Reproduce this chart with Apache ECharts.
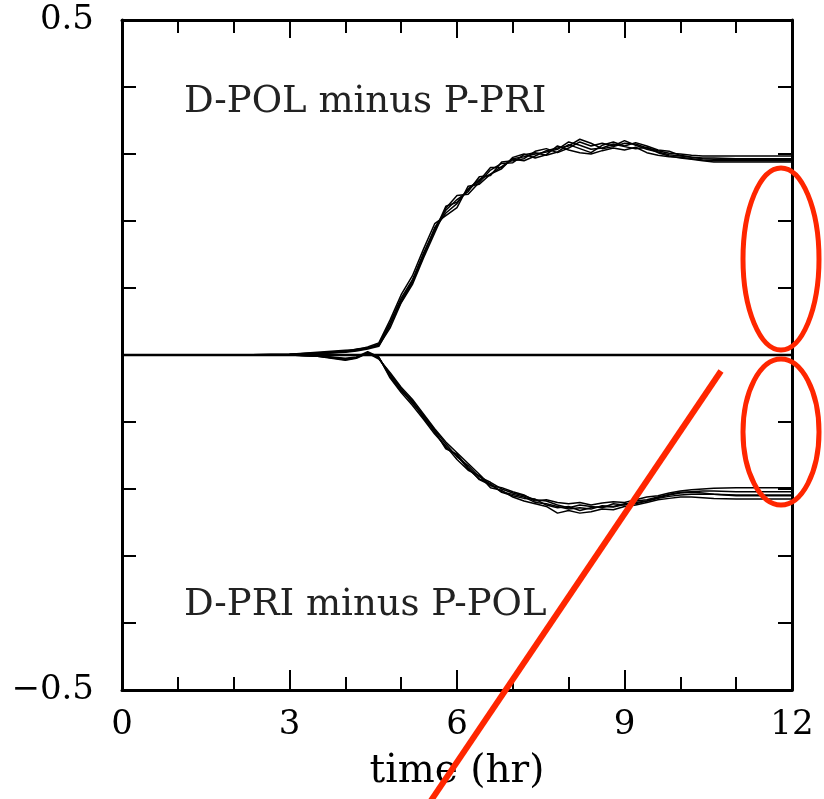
<!DOCTYPE html>
<html>
<head>
<meta charset="utf-8">
<script src="https://cdn.jsdelivr.net/npm/echarts@6/dist/echarts.min.js"></script>
<style>
html,body{margin:0;padding:0;background:#fff;}
#chart{width:824px;height:799px;}
</style>
</head>
<body>
<div id="chart"></div>
<script>
// time (hr)
var times = [0,1,2,3,3.5,4,4.2,4.4,4.6,4.8,5,5.2,5.4,5.6,5.8,6,6.2,6.4,6.6,6.8,7,7.2,7.4,7.6,7.8,8,8.2,8.4,8.6,8.8,9,9.2,9.4,9.6,9.8,10,10.2,10.4,10.6,11,12];

// D-POL minus P-PRI members
var up1 = [0,0,0,0.001,0.003,0.006,0.008,0.010,0.016,0.048,0.085,0.112,0.152,0.188,0.212,0.226,0.248,0.262,0.270,0.281,0.292,0.290,0.297,0.305,0.309,0.312,0.322,0.316,0.308,0.311,0.316,0.315,0.309,0.305,0.301,0.300,0.298,0.297,0.297,0.297,0.297];
var up2 = [0,0,0,0.000,0.002,0.005,0.009,0.011,0.014,0.040,0.078,0.105,0.145,0.182,0.219,0.238,0.240,0.258,0.276,0.286,0.287,0.299,0.302,0.298,0.303,0.314,0.308,0.302,0.313,0.318,0.312,0.317,0.312,0.306,0.304,0.298,0.295,0.294,0.294,0.293,0.293];
var up3 = [0,0,0,0.001,0.004,0.007,0.008,0.012,0.018,0.052,0.090,0.118,0.158,0.196,0.208,0.220,0.252,0.255,0.270,0.278,0.295,0.300,0.294,0.299,0.312,0.306,0.302,0.300,0.305,0.309,0.306,0.310,0.302,0.298,0.296,0.295,0.293,0.291,0.290,0.290,0.290];
var up4 = [0,0,0,0.000,0.002,0.004,0.006,0.009,0.013,0.044,0.082,0.110,0.148,0.190,0.216,0.232,0.244,0.266,0.268,0.288,0.290,0.293,0.304,0.308,0.302,0.309,0.318,0.312,0.316,0.312,0.320,0.313,0.307,0.303,0.299,0.297,0.295,0.293,0.292,0.292,0.292];
var up5 = [0,0,0,0.001,0.003,0.005,0.007,0.010,0.015,0.046,0.079,0.108,0.150,0.185,0.222,0.228,0.247,0.260,0.280,0.280,0.293,0.296,0.300,0.303,0.307,0.318,0.313,0.307,0.309,0.315,0.311,0.308,0.310,0.302,0.297,0.294,0.292,0.290,0.288,0.288,0.288];

// D-PRI minus P-POL members
var lo1 = [0,0,0,0,-0.001,-0.006,-0.004,0.004,-0.004,-0.030,-0.052,-0.072,-0.092,-0.115,-0.138,-0.150,-0.170,-0.185,-0.192,-0.205,-0.210,-0.214,-0.215,-0.224,-0.228,-0.226,-0.232,-0.228,-0.226,-0.227,-0.223,-0.220,-0.218,-0.214,-0.211,-0.209,-0.208,-0.208,-0.208,-0.209,-0.209];
var lo2 = [0,0,0,0,-0.002,-0.008,-0.005,0.003,-0.006,-0.026,-0.048,-0.066,-0.088,-0.110,-0.130,-0.146,-0.162,-0.178,-0.195,-0.198,-0.204,-0.209,-0.218,-0.216,-0.220,-0.222,-0.220,-0.224,-0.221,-0.219,-0.220,-0.216,-0.212,-0.210,-0.206,-0.203,-0.201,-0.200,-0.199,-0.198,-0.198];
var lo3 = [0,0,0,0,-0.001,-0.005,-0.003,0.005,-0.003,-0.034,-0.056,-0.075,-0.096,-0.118,-0.136,-0.156,-0.172,-0.180,-0.198,-0.202,-0.212,-0.218,-0.222,-0.226,-0.236,-0.232,-0.236,-0.234,-0.230,-0.231,-0.226,-0.224,-0.220,-0.216,-0.214,-0.212,-0.212,-0.213,-0.214,-0.215,-0.215];
var lo4 = [0,0,0,0,-0.001,-0.007,-0.004,0.004,-0.005,-0.028,-0.050,-0.070,-0.090,-0.112,-0.133,-0.152,-0.165,-0.182,-0.190,-0.200,-0.206,-0.210,-0.216,-0.218,-0.224,-0.228,-0.224,-0.226,-0.228,-0.222,-0.224,-0.218,-0.216,-0.212,-0.208,-0.205,-0.204,-0.203,-0.203,-0.204,-0.204];
var lo5 = [0,0,0,0,-0.002,-0.006,-0.004,0.003,-0.004,-0.032,-0.054,-0.068,-0.094,-0.114,-0.140,-0.148,-0.168,-0.186,-0.194,-0.204,-0.208,-0.212,-0.220,-0.222,-0.226,-0.230,-0.228,-0.230,-0.225,-0.226,-0.222,-0.222,-0.218,-0.213,-0.209,-0.206,-0.205,-0.206,-0.208,-0.210,-0.210];

var zeroTimes = [0, 12];
var zeroVals = [0, 0];

var labelUpper = 'D-POL minus P-PRI';
var labelLower = 'D-PRI minus P-POL';
var xTitle = 'time (hr)';
var yTitle = 'total rain difference (mm)';

var FONT = 'DejaVu Serif';

function pairs(xs, ys){ return xs.map(function(x,i){ return [x, ys[i]]; }); }

function lineSeries(name, vals){
  return {
    name: name, type: 'line', xAxisIndex: 0, yAxisIndex: 0,
    data: pairs(times, vals), showSymbol: false, symbol: 'none',
    lineStyle: { color: '#000', width: 1.5 }, silent: true, animation: false, z: 3
  };
}

var series = [
  lineSeries('u1', up1), lineSeries('u2', up2), lineSeries('u3', up3), lineSeries('u4', up4), lineSeries('u5', up5),
  lineSeries('l1', lo1), lineSeries('l2', lo2), lineSeries('l3', lo3), lineSeries('l4', lo4), lineSeries('l5', lo5),
  { name: 'zero', type: 'line', xAxisIndex: 0, yAxisIndex: 0, data: pairs(zeroTimes, zeroVals),
    showSymbol: false, symbol: 'none', lineStyle: { color: '#000', width: 2.6 }, animation: false, z: 4 }
];

var axisLine = { show: true, onZero: false, lineStyle: { color: '#000', width: 3 } };

var chart = echarts.init(document.getElementById('chart'), null, { renderer: 'canvas' });
chart.setOption({
  backgroundColor: '#fff',
  animation: false,
  grid: { left: 122, right: 32, top: 20, bottom: 109, containLabel: false, outerBoundsMode: 'none' },
  xAxis: [
    { type: 'value', min: 0, max: 12, interval: 3, position: 'bottom',
      axisLine: axisLine,
      axisTick: { show: true, inside: true, length: 20, lineStyle: { color: '#000', width: 2 } },
      minorTick: { show: true, splitNumber: 3, length: 13, lineStyle: { color: '#000', width: 2 } },
      splitLine: { show: false }, minorSplitLine: { show: false },
      axisLabel: { show: true, margin: 18, color: '#000', fontFamily: FONT, fontSize: 34,
        formatter: function(v){ return String(Math.round(v)); } },
      name: xTitle, nameLocation: 'middle', nameGap: 62,
      nameTextStyle: { color: '#000', fontFamily: FONT, fontSize: 39 }
    },
    { type: 'value', min: 0, max: 12, interval: 3, position: 'top',
      axisLine: axisLine,
      axisTick: { show: true, inside: true, length: 18, lineStyle: { color: '#000', width: 2 } },
      minorTick: { show: true, splitNumber: 3, length: 13, lineStyle: { color: '#000', width: 2 } },
      splitLine: { show: false }, axisLabel: { show: false }
    }
  ],
  yAxis: [
    { type: 'value', min: -0.5, max: 0.5, interval: 0.1, position: 'left',
      axisLine: axisLine,
      axisTick: { show: true, inside: true, length: 14, lineStyle: { color: '#000', width: 2 } },
      splitLine: { show: false },
      axisLabel: { show: true, margin: 28, color: '#000', fontFamily: FONT, fontSize: 34,
        showMinLabel: true, showMaxLabel: true,
        formatter: function(v){
          if (Math.abs(v - 0.5) < 1e-6) return '0.5';
          if (Math.abs(v + 0.5) < 1e-6) return '\u22120.5';
          return '';
        } },
      name: yTitle, nameLocation: 'middle', nameGap: 66,
      nameTextStyle: { color: '#000', fontFamily: FONT, fontSize: 40 }
    },
    { type: 'value', min: -0.5, max: 0.5, interval: 0.1, position: 'right',
      axisLine: axisLine,
      axisTick: { show: true, inside: true, length: 14, lineStyle: { color: '#000', width: 2 } },
      splitLine: { show: false }, axisLabel: { show: false }
    }
  ],
  graphic: [
    { type: 'text', left: 184, top: 84, z: 10, silent: true,
      style: { text: labelUpper, fill: '#222', font: '37px "DejaVu Serif"' } },
    { type: 'text', left: 184, top: 587, z: 10, silent: true,
      style: { text: labelLower, fill: '#222', font: '37px "DejaVu Serif"' } },
    { type: 'ellipse', z: 20, silent: true, shape: { cx: 781, cy: 259, rx: 38, ry: 91 },
      style: { fill: 'none', stroke: '#ff2600', lineWidth: 5 } },
    { type: 'ellipse', z: 20, silent: true, shape: { cx: 781, cy: 432, rx: 38, ry: 73 },
      style: { fill: 'none', stroke: '#ff2600', lineWidth: 5 } },
    { type: 'line', z: 20, silent: true, shape: { x1: 721, y1: 371, x2: 428, y2: 805 },
      style: { stroke: '#ff2600', lineWidth: 6 } }
  ],
  series: series
});
</script>
</body>
</html>
